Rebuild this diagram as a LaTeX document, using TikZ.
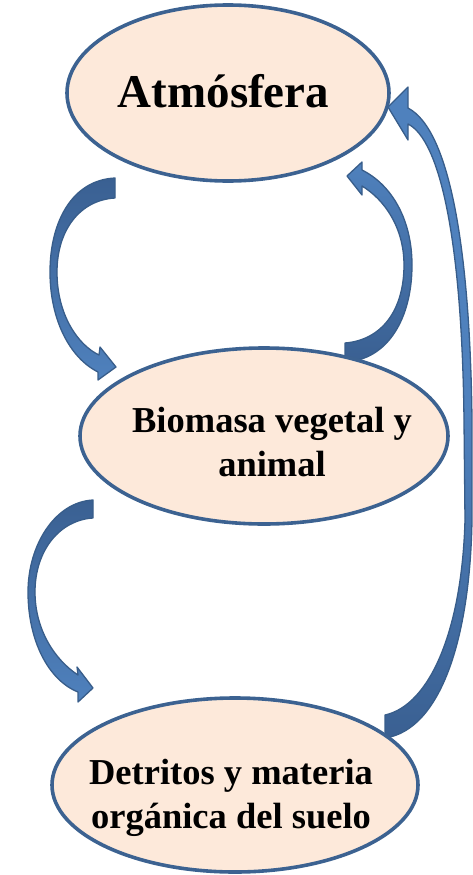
\documentclass[tikz,border=0pt]{standalone}
\usepackage{fontspec}
\setmainfont{Liberation Serif}
\usetikzlibrary{shapes.geometric}
\definecolor{blobfill}{RGB}{253,233,218}
\definecolor{blobline}{RGB}{60,98,145}
\definecolor{arrlight}{RGB}{79,129,189}
\definecolor{arrdark}{RGB}{58,96,146}
\definecolor{arrline}{RGB}{56,93,138}
\tikzset{
  blob/.style={ellipse, draw=blobline, fill=blobfill, line width=3.6pt, inner sep=0pt},
  lbl/.style={font=\bfseries, text=black, align=center, inner sep=0pt},
  blockarrow/.style={draw=arrline, line width=1.3pt, line join=round},
}
\begin{document}
\begin{tikzpicture}[x=1pt,y=-1pt]
\useasboundingbox (0,0) rectangle (472,875);
% curved block arrows
% A: Atmosfera -> Biomasa (left)
\path[blockarrow, top color=arrdark, bottom color=arrlight]
  (115,178) .. controls (72,180) and (50,222) .. (50,272)
  .. controls (50,320) and (70,358) .. (98,372) -- (98,380) -- (116,367) -- (100,347) -- (99,355)
  .. controls (78,345) and (57,315) .. (57,272)
  .. controls (57,230) and (80,200) .. (115,198) -- cycle;
% B: Biomasa -> Atmosfera (right)
\path[blockarrow, top color=arrlight, bottom color=arrdark]
  (345,362) .. controls (388,360) and (412,318) .. (412,265)
  .. controls (412,220) and (392,185) .. (362,170) -- (362,162) -- (347,176) -- (362,195) -- (362,186)
  .. controls (385,200) and (404,228) .. (404,265)
  .. controls (404,310) and (382,340) .. (345,343) -- cycle;
% C: Biomasa -> Detritos
\path[blockarrow, top color=arrdark, bottom color=arrlight]
  (93,500) .. controls (55,502) and (28,545) .. (28,592)
  .. controls (28,640) and (48,680) .. (78,692) -- (78,702) -- (93,688) -- (77,667) -- (78,675)
  .. controls (55,660) and (35,630) .. (35,592)
  .. controls (35,550) and (60,520) .. (93,518) -- cycle;
% D: Detritos -> Atmosfera
\path[blockarrow, top color=arrlight, bottom color=arrdark, middle color=arrlight]
  (385,738) .. controls (440,730) and (470,640) .. (472,520) -- (472,420)
  .. controls (470,250) and (450,130) .. (408,108) -- (408,87) -- (388,107) -- (408,140) -- (408,124)
  .. controls (440,140) and (462,240) .. (464,420) -- (465,520)
  .. controls (462,630) and (430,705) .. (385,715) -- cycle;
% ellipses
\node[blob, minimum width=322pt, minimum height=176pt] (atm) at (228,93) {};
\node[blob, minimum width=368pt, minimum height=176pt] (bio) at (264,436) {};
\node[blob, minimum width=366pt, minimum height=174pt] (det) at (235,785) {};
% labels
\node[lbl, font=\bfseries\fontsize{47}{56}\selectfont, anchor=base] (atmt) at (223.5,107) {Atmósfera};
\node[lbl, font=\bfseries\fontsize{36.5}{44}\selectfont] (biot) at (272,442.5) {Biomasa vegetal y\\animal};
\node[lbl, font=\bfseries\fontsize{36.5}{44}\selectfont] (dett) at (231,798) {Detritos y materia\\orgánica del suelo};
\end{tikzpicture}
\end{document}
